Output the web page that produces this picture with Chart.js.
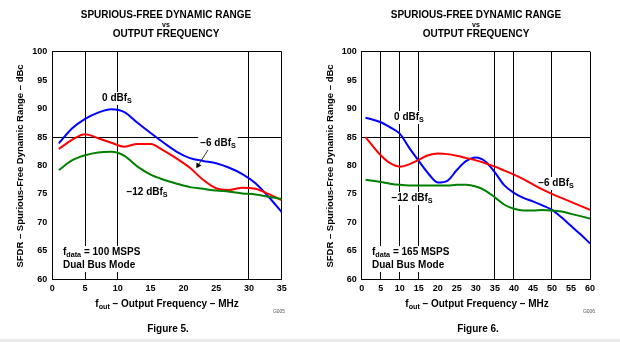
<!DOCTYPE html>
<html>
<head>
<meta charset="utf-8">
<script src="https://cdn.jsdelivr.net/npm/chart.js@4.4.1/dist/chart.umd.min.js"></script>
<style>
  body { margin: 0; background: #fff; }
  .panel { position: absolute; top: 0; width: 310px; height: 342px; }
  #strip { position: absolute; left: 0; top: 339px; width: 620px; height: 3px; background: #ececec; }
</style>
</head>
<body>
<div class="panel" style="left:0"><canvas id="fig5" width="310" height="342"></canvas></div>
<div class="panel" style="left:310px"><canvas id="fig6" width="310" height="342"></canvas></div>
<div id="strip"></div>
<script>
// Figure 5 - fdata = 100 MSPS, SFDR (dBc) vs fout (MHz)
const fig5Freq   = [1, 3, 5, 7, 9, 11, 13, 15, 17, 19, 21, 23, 25, 27, 29, 31, 33, 35];
const fig5Zero   = [83.9, 86.5, 88.2, 89.3, 89.9, 89.4, 87.5, 85.7, 84.0, 82.4, 81.3, 80.8, 80.4, 79.6, 78.5, 76.9, 74.5, 71.8];
const fig5Six    = [82.9, 84.5, 85.5, 84.8, 84.0, 83.3, 83.8, 83.8, 82.6, 81.2, 79.6, 77.5, 76.0, 75.7, 76.1, 75.9, 75.0, 73.9];
const fig5Twelve = [79.2, 80.9, 81.8, 82.3, 82.4, 81.7, 79.8, 78.4, 77.5, 76.8, 76.2, 75.9, 75.6, 75.4, 75.1, 74.9, 74.5, 74.1];
const fig5GridX  = [5, 10, 30];

// Figure 6 - fdata = 165 MSPS
const fig6Freq   = [1, 5, 7.5, 10, 12.5, 15, 17.5, 20, 22.5, 25, 27.5, 30, 32.5, 35, 37.5, 40, 42.5, 45, 47.5, 50, 52.5, 55, 57.5, 60];
const fig6Zero   = [88.4, 87.6, 86.7, 85.6, 83.1, 80.8, 78.6, 77.0, 77.3, 79.2, 80.8, 81.4, 80.7, 78.8, 76.5, 75.2, 74.3, 73.7, 73.0, 72.2, 70.9, 69.4, 67.9, 66.3];
const fig6Six    = [85.0, 81.8, 80.4, 79.8, 80.2, 81.0, 81.8, 82.1, 82.0, 81.7, 81.3, 80.9, 80.4, 79.8, 79.1, 78.4, 77.6, 76.7, 75.8, 75.0, 74.3, 73.6, 72.9, 72.2];
const fig6Twelve = [77.5, 77.1, 76.8, 76.6, 76.5, 76.5, 76.5, 76.5, 76.5, 76.6, 76.6, 76.3, 75.6, 74.4, 73.1, 72.4, 72.1, 72.1, 72.2, 72.1, 71.9, 71.5, 71.1, 70.7];
const fig6GridX  = [5, 10, 15, 35, 40, 50];

const yGridValues = [85];
const FONT = '"Liberation Sans", Arial, sans-serif';

Chart.defaults.font.family = FONT;
Chart.defaults.color = '#000';

function toPoints(xs, ys) {
  return xs.map((x, i) => ({ x: x, y: ys[i] }));
}

// text with optional subscript pieces: segs = [[text, isSub], ...]
function richWidth(ctx, segs, size) {
  let w = 0;
  segs.forEach(([t, sub]) => {
    ctx.font = `bold ${sub ? size * 0.72 : size}px ${FONT}`;
    w += ctx.measureText(t).width;
  });
  return w;
}

function drawRich(ctx, segs, x, y, size, align) {
  const w = richWidth(ctx, segs, size);
  let cx = align === 'left' ? x : x - w / 2;
  ctx.textBaseline = 'middle';
  ctx.textAlign = 'left';
  segs.forEach(([t, sub]) => {
    ctx.font = `bold ${sub ? size * 0.72 : size}px ${FONT}`;
    ctx.fillText(t, cx, sub ? y + size * 0.3 : y);
    cx += ctx.measureText(t).width;
  });
  return w;
}

const textPlugin = {
  id: 'sfdrText',
  beforeDatasetsDraw(chart, args, opts) {
    // white knock-out behind in-plot labels
    const ctx = chart.ctx;
    ctx.save();
    ctx.fillStyle = '#fff';
    opts.labels.forEach(l => {
      const w = richWidth(ctx, l.segs, l.size || 10);
      const x0 = l.align === 'left' ? l.x : l.x - w / 2;
      ctx.fillRect(x0 - 2, l.y - 6, w + 4, 13);
    });
    ctx.restore();
  },
  afterDatasetsDraw(chart, args, opts) {
    const ctx = chart.ctx;
    ctx.save();
    ctx.fillStyle = '#000';
    opts.labels.forEach(l => drawRich(ctx, l.segs, l.x, l.y, l.size || 10, l.align));

    if (opts.arrow) {
      const a = opts.arrow;
      ctx.strokeStyle = '#000';
      ctx.lineWidth = 0.8;
      ctx.beginPath();
      ctx.moveTo(a.x1, a.y1);
      ctx.lineTo(a.x2, a.y2);
      ctx.stroke();
      const ang = Math.atan2(a.y2 - a.y1, a.x2 - a.x1);
      ctx.beginPath();
      ctx.moveTo(a.x2 + Math.cos(ang) * 5, a.y2 + Math.sin(ang) * 5);
      ctx.lineTo(a.x2 + Math.cos(ang + Math.PI / 2) * 3, a.y2 + Math.sin(ang + Math.PI / 2) * 3);
      ctx.lineTo(a.x2 + Math.cos(ang - Math.PI / 2) * 3, a.y2 + Math.sin(ang - Math.PI / 2) * 3);
      ctx.closePath();
      ctx.fill();
    }

    // titles
    const cx = 166;
    ctx.textAlign = 'center';
    ctx.textBaseline = 'middle';
    ctx.font = `bold 10px ${FONT}`;
    ctx.fillText('SPURIOUS-FREE DYNAMIC RANGE', cx, 15.5);
    ctx.font = `bold 7px ${FONT}`;
    ctx.fillText('vs', cx, 25);
    ctx.font = `bold 10px ${FONT}`;
    ctx.fillText('OUTPUT FREQUENCY', cx, 34.5);

    // axis titles
    drawRich(ctx, [['f', false], ['out', true], [' \u2013 Output Frequency \u2013 MHz', false]], 167, 304, 10, 'center');
    ctx.save();
    ctx.translate(20, 166);
    ctx.rotate(-Math.PI / 2);
    ctx.textAlign = 'center';
    ctx.font = `bold 9.5px ${FONT}`;
    ctx.fillText('SFDR \u2013 Spurious-Free Dynamic Range \u2013 dBc', 0, 0);
    ctx.restore();

    ctx.textAlign = 'center';
    ctx.font = `bold 10px ${FONT}`;
    ctx.fillText(opts.figure, 168, 329);
    ctx.font = `5px ${FONT}`;
    ctx.fillStyle = '#555';
    ctx.fillText(opts.code, 279, 312);
    ctx.restore();
  }
};

function lineSet(data, color) {
  return {
    data: data,
    borderColor: color,
    borderWidth: 2,
    pointRadius: 0,
    fill: false,
    cubicInterpolationMode: 'monotone'
  };
}

function makeChart(id, cfg) {
  const rightPad = 310 - cfg.right;
  return new Chart(document.getElementById(id), {
    type: 'line',
    data: {
      datasets: [
        lineSet(toPoints(cfg.freq, cfg.twelve), 'rgb(0,128,0)'),
        lineSet(toPoints(cfg.freq, cfg.six), 'rgb(255,0,0)'),
        lineSet(toPoints(cfg.freq, cfg.zero), 'rgb(0,0,255)')
      ]
    },
    options: {
      responsive: false,
      animation: false,
      layout: { padding: { top: 51.7, right: rightPad, left: 0, bottom: 0 } },
      scales: {
        x: {
          type: 'linear',
          min: 0,
          max: cfg.xMax,
          ticks: { stepSize: 5, padding: 4, maxRotation: 0, font: { size: 9, weight: 'bold' } },
          grid: {
            drawTicks: false,
            lineWidth: 1,
            color: c => (cfg.gridX.includes(c.tick.value) || c.tick.value === cfg.xMax) ? '#000' : 'rgba(0,0,0,0)'
          },
          border: { display: true, color: '#000', width: 1 },
          afterFit: s => { s.height = 342 - 279.3; }
        },
        y: {
          min: 60,
          max: 100,
          ticks: { stepSize: 5, padding: 5, font: { size: 9, weight: 'bold' } },
          grid: {
            drawTicks: false,
            lineWidth: 1,
            color: c => (yGridValues.includes(c.tick.value) || c.tick.value === 100) ? '#000' : 'rgba(0,0,0,0)'
          },
          border: { display: true, color: '#000', width: 1 },
          afterFit: s => { s.width = cfg.left; }
        }
      },
      plugins: {
        legend: { display: false },
        tooltip: { enabled: false },
        sfdrText: {
          labels: cfg.labels,
          arrow: cfg.arrow,
          figure: cfg.figure,
          code: cfg.code
        }
      }
    },
    plugins: [textPlugin]
  });
}

const dbfs = (lvl) => [[lvl + ' dBf', false], ['S', true]];

makeChart('fig5', {
  freq: fig5Freq, zero: fig5Zero, six: fig5Six, twelve: fig5Twelve,
  gridX: fig5GridX, xMax: 35, left: 52.3, right: 281.7,
  figure: 'Figure 5.', code: 'G005',
  labels: [
    { segs: dbfs('0'), x: 117, y: 98 },
    { segs: dbfs('\u22126'), x: 218, y: 143 },
    { segs: dbfs('\u221212'), x: 147, y: 192 },
    { segs: [['f', false], ['data', true], [' = 100 MSPS', false]], x: 63, y: 252, align: 'left' },
    { segs: [['Dual Bus Mode', false]], x: 63, y: 265, align: 'left' }
  ],
  arrow: { x1: 208, y1: 150, x2: 199, y2: 164 }
});

makeChart('fig6', {
  freq: fig6Freq, zero: fig6Zero, six: fig6Six, twelve: fig6Twelve,
  gridX: fig6GridX, xMax: 60, left: 51.7, right: 280,
  figure: 'Figure 6.', code: 'G006',
  labels: [
    { segs: dbfs('0'), x: 99, y: 117 },
    { segs: dbfs('\u22126'), x: 246, y: 183 },
    { segs: dbfs('\u221212'), x: 102, y: 198 },
    { segs: [['f', false], ['data', true], [' = 165 MSPS', false]], x: 62, y: 252, align: 'left' },
    { segs: [['Dual Bus Mode', false]], x: 62, y: 265, align: 'left' }
  ]
});
</script>
</body>
</html>
